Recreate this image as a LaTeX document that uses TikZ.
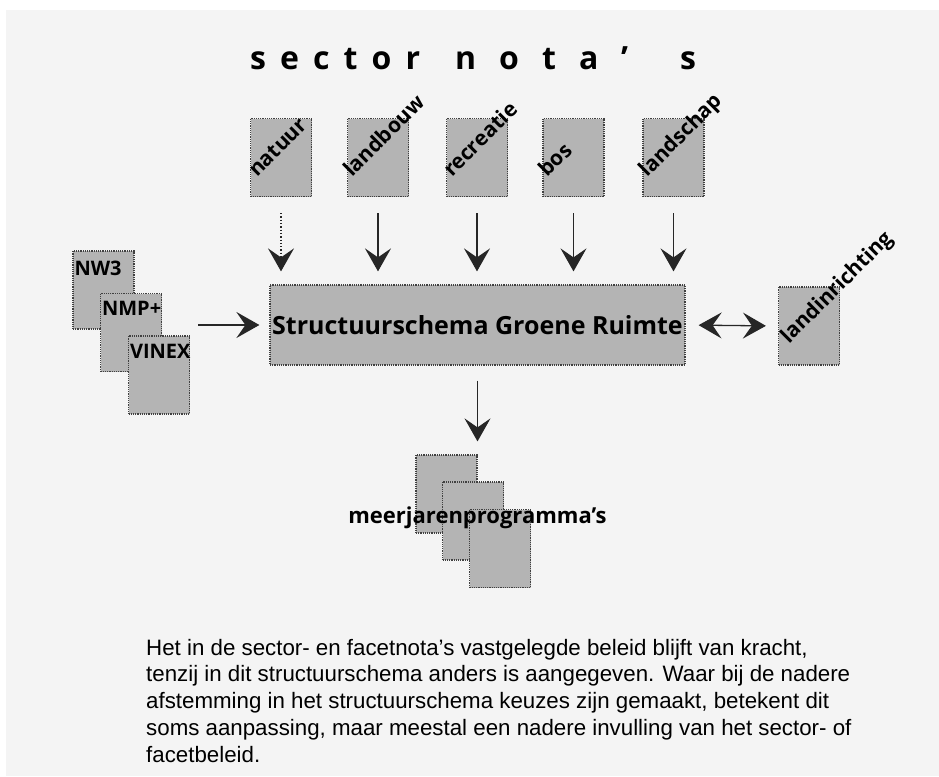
\documentclass[tikz,border=0pt]{standalone}
\usepackage{fontspec}
\setmainfont{Open Sans}
\newfontfamily\captionfont{Liberation Sans}
\usetikzlibrary{calc,arrows.meta}
\definecolor{papier}{HTML}{F4F4F4}
\definecolor{vlak}{HTML}{B4B4B4}

\begin{document}
\begin{tikzpicture}[
    x=1pt, y=-1pt,
    >={Stealth[length=23pt, width=26pt, inset=9pt]},
    doc node/.style={rectangle, draw=black!75, densely dotted, line width=1.2pt, fill=vlak, inner sep=0pt, minimum width=61pt, minimum height=78pt},
    main node/.style={rectangle, draw=black!75, densely dotted, line width=1.2pt, fill=vlak, inner sep=0pt, minimum width=415pt, minimum height=80pt, font=\bfseries\fontsize{25}{30}\selectfont},
    diag label/.style={rotate=45, anchor=base west, inner sep=0pt, font=\bfseries\fontsize{21}{25}\selectfont},
    doc label/.style={anchor=base west, inner sep=0pt, font=\bfseries\fontsize{20}{24}\selectfont},
    title node/.style={anchor=base west, inner sep=0pt},
    flow edge/.style={line width=1.3pt, draw=black!85, ->}
]
\useasboundingbox (0,0) rectangle (939,776);
\fill[white] (0,0) rectangle (939,776);
\fill[papier] (6,10) rectangle (939,776);

% titel boven de sectornota's
\node[title node, font=\bfseries\fontsize{32}{36}\selectfont\addfontfeature{LetterSpace=44}] (titel1) at (250,70) {sector};
\node[title node, font=\bfseries\fontsize{32}{36}\selectfont\addfontfeature{LetterSpace=72}] (titel2) at (455,70) {nota'};
\node[title node, font=\bfseries\fontsize{32}{36}\selectfont] (titel3) at (680,70) {s};

% sectornota's (labels schuin, steken buiten het vlak uit)
\node[doc node] (natuur)    at (281,  157.5) {};
\node[doc node] (landbouw)  at (378,  157.5) {};
\node[doc node] (recreatie) at (477,  157.5) {};
\node[doc node] (bos)       at (573.5,157.5) {};
\node[doc node] (landschap) at (673.5,157.5) {};
\node[diag label] at ([shift={(7,-19)}]natuur.south west)    {natuur};
\node[diag label] at ([shift={(5,-19)}]landbouw.south west)  {landbouw};
\node[diag label] at ([shift={(6,-19)}]recreatie.south west) {recreatie};
\node[diag label] at ([shift={(5,-19)}]bos.south west)       {bos};
\node[diag label] at ([shift={(5,-19)}]landschap.south west) {landschap};

% centrale nota
\node[main node] (struct) at (477.5,325) {Structuurschema Groene Ruimte};

% links: NW3, NMP+, VINEX (gestapeld)
\node[doc node] (nw3)   at (103.5,290) {};
\node[doc label] at ([shift={(2,25)}]nw3.north west) {NW3};
\node[doc node] (nmp)   at (131,332.5) {};
\node[doc label] at ([shift={(2,23)}]nmp.north west) {NMP+};
\node[doc node] (vinex) at (159,375) {};
\node[doc label] at ([shift={(2,23)}]vinex.north west) {VINEX};

% rechts: landinrichting
\node[doc node] (landinr) at (809,326) {};
\node[diag label] at ([shift={(11,-21)}]landinr.south west) {landinrichting};

% onder: meerjarenprogramma's
\node[doc node] (prog1) at (446.5,494) {};
\node[doc node] (prog2) at (473,521) {};
\node[doc node] (prog3) at (500,548.5) {};
\node[doc label, anchor=base, font=\bfseries\fontsize{22}{26}\selectfont] (progtekst) at (477.5,523) {meerjarenprogramma's};

% pijlen van sectornota's naar het structuurschema
\draw[flow edge, dotted, shorten <=16pt, shorten >=13pt] (natuur) -- (natuur |- struct.north);
\draw[flow edge, shorten <=16pt, shorten >=13pt] (landbouw)  -- (landbouw |- struct.north);
\draw[flow edge, shorten <=16pt, shorten >=13pt] (recreatie) -- (recreatie |- struct.north);
\draw[flow edge, shorten <=16pt, shorten >=13pt] (bos)       -- (bos |- struct.north);
\draw[flow edge, shorten <=16pt, shorten >=13pt] (landschap) -- (landschap |- struct.north);

\draw[flow edge, shorten <=8pt, shorten >=10pt] (struct.west -| vinex.east) -- (struct.west);
\draw[flow edge, <->, shorten <=13pt, shorten >=12pt] (struct.east) -- (landinr.west);
\draw[flow edge, shorten <=15pt, shorten >=13pt] (struct.south) -- (struct.south |- prog1.north);

% bijschrift (anker op de basislijn van de laatste regel)
\node[anchor=base west, inner sep=0pt, align=left, font=\captionfont\fontsize{22.3}{26.7}\selectfont] (bijschrift) at (146,762)
  {Het in de sector- en facetnota’s vastgelegde beleid blijft van kracht,\\
   tenzij in dit structuurschema anders is aangegeven. Waar bij de nadere\\
   afstemming in het structuurschema keuzes zijn gemaakt, betekent dit\\
   soms aanpassing, maar meestal een nadere invulling van het sector- of\\
   facetbeleid.};

\end{tikzpicture}
\end{document}
